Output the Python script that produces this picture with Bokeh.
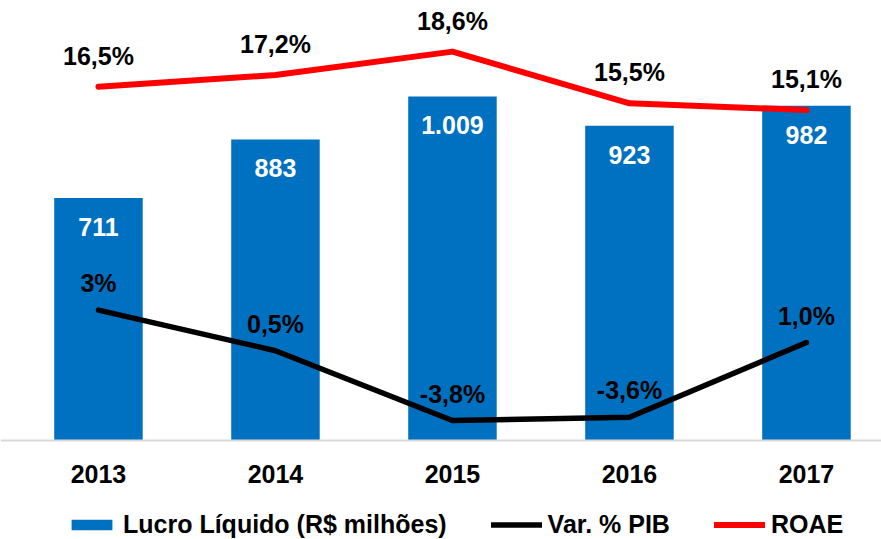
from bokeh.plotting import figure
from bokeh.models import Range1d, Legend, LegendItem, ColumnDataSource, Span
from bokeh.core.properties import value
from bokeh.embed import file_html
from bokeh.resources import INLINE

years = ["2013", "2014", "2015", "2016", "2017"]
lucro = [711, 883, 1009, 923, 982]
lucro_labels = ["711", "883", "1.009", "923", "982"]
pib = [3.0, 0.5, -3.8, -3.6, 1.0]
pib_labels = ["3%", "0,5%", "-3,8%", "-3,6%", "1,0%"]
roae = [16.5, 17.2, 18.6, 15.5, 15.1]
roae_labels = ["16,5%", "17,2%", "18,6%", "15,5%", "15,1%"]

BLUE = "#0070C0"
RED = "#FF0000"
FONT = "Liberation Sans"
FS = "25px"

xs = list(range(len(years)))
src = ColumnDataSource(dict(x=xs, year=years, zero=[0] * len(years),
                            lucro=lucro, lucro_lbl=lucro_labels,
                            pib=pib, pib_lbl=pib_labels,
                            roae=roae, roae_lbl=roae_labels))

p = figure(width=881, height=539, output_backend="svg", toolbar_location=None,
           x_range=Range1d(-0.5535, 4.424), y_range=Range1d(-290.3, 1290.3),
           min_border=0, x_axis_type=None, y_axis_type=None)
p.extra_y_ranges = {"pib": Range1d(-11.126, 22.064), "roae": Range1d(-10.633, 21.662)}
p.xgrid.visible = False
p.ygrid.visible = False
p.outline_line_color = None

# baseline (category axis line)
p.add_layout(Span(location=0, dimension="width", line_color="#D9D9D9", line_width=2))

bars = p.vbar(x="x", top="lucro", width=0.5, source=src, fill_color=BLUE, line_color=None)
lpib = p.line(x="x", y="pib", source=src, y_range_name="pib", line_color="black",
              line_width=5.5, line_cap="round", line_join="round")
lroae = p.line(x="x", y="roae", source=src, y_range_name="roae", line_color=RED,
               line_width=6, line_cap="round", line_join="round")

txt = dict(text_font=value(FONT), text_font_style="bold", text_font_size=FS,
           text_align="center", text_baseline="middle")
p.text(x="x", y="lucro", text="lucro_lbl", source=src, text_color="white", y_offset=29, **txt)
p.text(x="x", y="pib", text="pib_lbl", source=src, y_range_name="pib",
       text_color="black", y_offset=-27, **txt)
p.text(x="x", y="roae", text="roae_lbl", source=src, y_range_name="roae",
       text_color="black", y_offset=-31, **txt)
# category (year) labels under the baseline
p.text(x="x", y="zero", text="year", source=src, text_color="black", y_offset=33, **txt)

leg = Legend(items=[LegendItem(label="Lucro Líquido (R$ milhões)", renderers=[bars]),
                    LegendItem(label="Var. % PIB", renderers=[lpib]),
                    LegendItem(label="ROAE", renderers=[lroae])],
             orientation="horizontal", location=(66, 0),
             label_text_font=FONT, label_text_font_style="bold",
             label_text_font_size="25px", label_text_color="black",
             glyph_width=51, glyph_height=13, label_standoff=6,
             padding=0, margin=0, spacing=44, border_line_color=None,
             background_fill_alpha=0)
p.add_layout(leg)

open("out.html", "w").write(file_html(p, INLINE))
